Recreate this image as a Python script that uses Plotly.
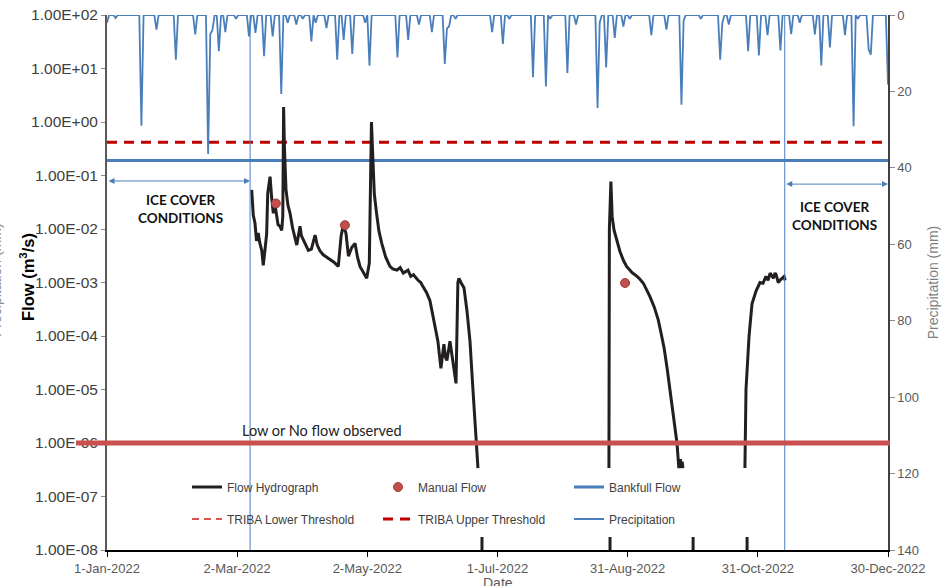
import math
import pandas as pd
import plotly.graph_objects as go

# ---------------- data ----------------
# Daily precipitation (mm); days not listed read as 0 mm
PRECIP_DATES = [
    "2022-01-01", "2022-01-05", "2022-01-17", "2022-01-24", "2022-02-02", "2022-02-11",
    "2022-02-17", "2022-02-18", "2022-02-19", "2022-02-22", "2022-02-25", "2022-03-02",
    "2022-03-08", "2022-03-11", "2022-03-15", "2022-03-19", "2022-03-23", "2022-03-26",
    "2022-03-30", "2022-04-02", "2022-04-06", "2022-04-08", "2022-04-13", "2022-04-18",
    "2022-04-21", "2022-04-25", "2022-05-01", "2022-05-03", "2022-05-16", "2022-05-21",
    "2022-05-26", "2022-06-01", "2022-06-07", "2022-06-08", "2022-06-09", "2022-06-12",
    "2022-06-29", "2022-07-04", "2022-07-07", "2022-07-18", "2022-07-24", "2022-07-26",
    "2022-08-03", "2022-08-07", "2022-08-17", "2022-08-18", "2022-08-21", "2022-08-25",
    "2022-08-29", "2022-09-01", "2022-09-11", "2022-09-18", "2022-09-25", "2022-09-26",
    "2022-10-04", "2022-10-13", "2022-10-14", "2022-10-17", "2022-10-26", "2022-10-31",
    "2022-11-04", "2022-11-10", "2022-11-15", "2022-11-19", "2022-11-26", "2022-11-29",
    "2022-12-03", "2022-12-10", "2022-12-14", "2022-12-16", "2022-12-21", "2022-12-22",
    "2022-12-30",
]
PRECIP_MM = [
    2.0, 0.8, 29.0, 3.8, 11.7, 5.1,
    36.4, 5.0, 4.0, 9.5, 4.5, 1.0,
    5.6, 4.7, 10.8, 5.6, 20.7, 2.0,
    2.5, 1.0, 6.9, 2.0, 3.4, 11.7,
    6.5, 10.2, 2.0, 13.3, 11.1, 6.5,
    2.5, 4.5, 12.8, 3.5, 3.0, 1.0,
    4.5, 7.6, 1.0, 16.3, 18.7, 1.0,
    15.2, 2.5, 24.3, 2.0, 13.7, 6.0,
    3.0, 1.0, 5.3, 3.8, 23.5, 1.5,
    1.0, 11.7, 2.0, 2.5, 9.5, 10.6,
    5.3, 9.3, 5.0, 2.0, 5.1, 13.2,
    8.5, 5.3, 29.1, 1.0, 9.0, 10.4,
    18.2,
]

# Flow hydrograph (m3/s); None marks breaks in the record
FLOW_DATES = [
    "2022-03-09 06:00", "2022-03-10 00:00", "2022-03-10 19:00", "2022-03-11 12:00", "2022-03-12 07:00",
    "2022-03-13 00:00", "2022-03-13 22:00", "2022-03-14 15:00", "2022-03-15 10:00", "2022-03-16 05:00",
    "2022-03-16 17:00", "2022-03-17 19:00", "2022-03-18 12:00", "2022-03-19 07:00", "2022-03-20 00:00",
    "2022-03-20 12:00", "2022-03-21 12:00", "2022-03-22 10:00", "2022-03-23 05:00", "2022-03-23 17:00",
    "2022-03-24 02:00", "2022-03-24 12:00", "2022-03-25 05:00", "2022-03-26 02:00", "2022-03-27 02:00",
    "2022-03-28 06:00", "2022-03-29 10:00", "2022-03-30 05:00", "2022-03-31 17:00", "2022-04-01 08:00",
    "2022-04-02 05:00", "2022-04-03 10:00", "2022-04-04 14:00", "2022-04-06 00:00", "2022-04-07 17:00",
    "2022-04-08 17:00", "2022-04-10 00:00", "2022-04-11 12:00", "2022-04-13 00:00", "2022-04-14 14:00",
    "2022-04-16 12:00", "2022-04-18 12:00", "2022-04-19 19:00", "2022-04-20 19:00", "2022-04-22 02:00",
    "2022-04-23 05:00", "2022-04-24 18:00", "2022-04-26 07:00", "2022-04-27 10:00", "2022-04-28 14:00",
    "2022-04-30 06:00", "2022-05-01 17:00", "2022-05-02 22:00", "2022-05-03 22:00", "2022-05-04 14:00",
    "2022-05-05 06:00", "2022-05-06 07:00", "2022-05-07 10:00", "2022-05-08 17:00", "2022-05-10 12:00",
    "2022-05-12 12:00", "2022-05-13 20:00", "2022-05-15 19:00", "2022-05-17 06:00", "2022-05-18 17:00",
    "2022-05-20 22:00", "2022-05-22 04:00", "2022-05-23 10:00", "2022-05-25 14:00", "2022-05-26 20:00",
    "2022-05-28 00:00", "2022-05-29 12:00", "2022-05-31 02:00", "2022-06-02 12:00", "2022-06-03 19:00",
    "2022-06-05 05:00", "2022-06-06 14:00", "2022-06-07 08:00", "2022-06-08 00:00", "2022-06-09 10:00",
    "2022-06-10 19:00", "2022-06-12 05:00", "2022-06-13 02:00", "2022-06-13 14:00", "2022-06-14 12:00",
    "2022-06-15 22:00", "2022-06-17 07:00", "2022-06-18 17:00", "2022-06-20 02:00", "2022-06-21 12:00",
    "2022-06-22 10:00",
    None,
    "2022-06-24 07:00", "2022-06-24 07:00",
    None,
    "2022-08-22 19:00", "2022-08-22 19:00",
    None,
    "2022-08-22 07:00", "2022-08-22 12:00", "2022-08-23 05:00", "2022-08-23 19:00", "2022-08-24 16:00",
    "2022-08-25 22:00", "2022-08-27 10:00", "2022-08-29 00:00", "2022-08-30 12:00", "2022-09-01 02:00",
    "2022-09-02 06:00", "2022-09-03 10:00", "2022-09-05 08:00", "2022-09-07 07:00", "2022-09-08 20:00",
    "2022-09-10 10:00", "2022-09-12 08:00", "2022-09-14 05:00", "2022-09-15 14:00", "2022-09-16 22:00",
    "2022-09-18 08:00", "2022-09-19 17:00", "2022-09-21 12:00", "2022-09-22 22:00", "2022-09-23 19:00",
    "2022-09-24 12:00", "2022-09-24 20:00", "2022-09-25 08:00", "2022-09-25 16:00",
    None,
    "2022-09-30 10:00", "2022-09-30 10:00",
    None,
    "2022-10-25 12:00", "2022-10-25 12:00",
    None,
    "2022-10-24 12:00", "2022-10-25 00:00", "2022-10-26 10:00", "2022-10-27 19:00", "2022-10-29 17:00",
    "2022-10-31 12:00", "2022-11-01 22:00", "2022-11-03 07:00", "2022-11-04 06:00", "2022-11-05 05:00",
    "2022-11-06 17:00", "2022-11-07 12:00", "2022-11-08 00:00", "2022-11-09 00:00", "2022-11-09 18:00",
    "2022-11-10 14:00", "2022-11-11 17:00", "2022-11-12 05:00",
]
FLOW_VALUES = [
    0.054, 0.018, 0.0128, 0.006, 0.0084,
    0.0055, 0.004, 0.0021, 0.004, 0.0082,
    0.047, 0.095, 0.040, 0.0196, 0.030,
    0.022, 0.012, 0.0112, 0.0094, 0.0172,
    1.9, 0.3, 0.054, 0.028, 0.0196,
    0.0105, 0.0063, 0.005, 0.0113, 0.0075,
    0.0063, 0.0048, 0.004, 0.0042, 0.0077,
    0.005, 0.0039, 0.0033, 0.0030, 0.0027,
    0.0024, 0.002, 0.0073, 0.0117, 0.0083,
    0.0031, 0.0045, 0.0054, 0.0030, 0.002,
    0.0015, 0.0012, 0.0023, 1.0, 0.2,
    0.045, 0.0196, 0.0090, 0.0054, 0.0030,
    0.002, 0.0018, 0.0017, 0.0019, 0.0015,
    0.0017, 0.0013, 0.0014, 0.0011, 0.0010,
    0.00082, 0.00065, 0.00046, 0.00015, 8e-5,
    2.5e-5, 7e-5, 4e-5, 3.5e-5, 8e-5,
    3e-5, 1.3e-5, 1.0e-3, 1.2e-3, 1.0e-3,
    8e-4, 3e-4, 8e-5, 1e-5, 1.2e-6,
    3.4e-7,
    None,
    1.75e-8, 1e-9,
    None,
    1.75e-8, 1e-9,
    None,
    3.4e-7, 0.01, 0.077, 0.017, 0.0095,
    0.0063, 0.0038, 0.0026, 0.0020, 0.0017,
    0.0015, 0.0014, 0.0012, 0.00097, 0.00075,
    0.00054, 0.00035, 0.0002, 0.00011, 6e-5,
    2.5e-5, 1e-5, 2.5e-6, 1e-6, 3.4e-7,
    5e-7, 3.4e-7, 4.5e-7, 3.4e-7,
    None,
    1.75e-8, 1e-9,
    None,
    1.75e-8, 1e-9,
    None,
    3.4e-7, 1e-5, 1e-4, 4e-4, 7e-4,
    1e-3, 9.7e-4, 1.3e-3, 1.1e-3, 1.5e-3,
    1.2e-3, 1.5e-3, 1.4e-3, 1.0e-3, 1.1e-3,
    1.2e-3, 1.3e-3, 1.1e-3,
]

MANUAL_DATES = ["2022-03-20 12:00", "2022-04-21 14:00", "2022-08-29 19:00"]
MANUAL_FLOW = [0.030, 0.0118, 0.00098]

BANKFULL_FLOW = 0.19
TRIBA_UPPER = 0.42
TRIBA_LOWER = None          # not visible within the plotted range
LOW_FLOW_LEVEL = 1.0e-6

ICE_END = "2022-03-08 12:00"
ICE_START = "2022-11-12 00:00"

X_START, X_END = "2022-01-01", "2022-12-30"
X_TICK_VALS = ["2022-01-01", "2022-03-02 12:00", "2022-05-02", "2022-07-01 12:00",
               "2022-08-31", "2022-10-30 12:00", "2022-12-30"]
X_TICK_LABELS = ["1-Jan-2022", "2-Mar-2022", "2-May-2022", "1-Jul-2022",
                 "31-Aug-2022", "31-Oct-2022", "30-Dec-2022"]
Y_TICK_VALS = [1e-8, 1e-7, 1e-6, 1e-5, 1e-4, 1e-3, 1e-2, 1e-1, 1e0, 1e1, 1e2]
Y_TICK_LABELS = ["1.00E-08", "1.00E-07", "1.00E-06", "1.00E-05", "1.00E-04", "1.00E-03",
                 "1.00E-02", "1.00E-01", "1.00E+00", "1.00E+01", "1.00E+02"]
Y2_TICK_VALS = [0, 20, 40, 60, 80, 100, 120, 140]

# ---------------- build daily precipitation ----------------
days = pd.date_range(X_START, X_END, freq="D")
pmap = dict(zip(pd.to_datetime(PRECIP_DATES), PRECIP_MM))
precip_daily = [pmap.get(d, 0.0) for d in days]

BLUE = "#4a7ebb"
FONT = "Liberation Sans, Arial, sans-serif"
CAL = "Lato, Carlito, sans-serif"

# plot-area geometry (px) used for placing text in paper coords
L, R, T, B = 107, 64, 15, 36
PW, PH = 952 - L - R, 586 - T - B


def px(xp):
    return (xp - L) / PW


def py(yp):
    return 1 - (yp - T) / PH


fig = go.Figure()

fig.add_trace(go.Scatter(
    x=days, y=precip_daily, yaxis="y2", mode="lines", name="Precipitation",
    line=dict(color=BLUE, width=1.8), legend="legend2", legendrank=6))

fig.add_trace(go.Scatter(
    x=[X_START, X_END], y=[BANKFULL_FLOW, BANKFULL_FLOW], mode="lines", name="Bankfull Flow",
    line=dict(color=BLUE, width=3), legend="legend", legendrank=3))

fig.add_trace(go.Scatter(
    x=[X_START, X_END], y=[TRIBA_LOWER, TRIBA_LOWER], mode="lines", name="TRIBA Lower Threshold",
    line=dict(color="#d9534f", width=2, dash="7px,5px"), legend="legend2", legendrank=4))

fig.add_trace(go.Scatter(
    x=[X_START, X_END], y=[TRIBA_UPPER, TRIBA_UPPER], mode="lines", name="TRIBA Upper Threshold",
    line=dict(color="#c00000", width=3, dash="10px,7px"), legend="legend2", legendrank=5))

fig.add_trace(go.Scatter(
    x=FLOW_DATES, y=FLOW_VALUES, mode="lines", name="Flow Hydrograph",
    line=dict(color="#231f20", width=3), connectgaps=False, legend="legend", legendrank=1))

fig.add_trace(go.Scatter(
    x=MANUAL_DATES, y=MANUAL_FLOW, mode="markers", name="Manual Flow",
    marker=dict(color="#c0504d", size=9, line=dict(color="#a33b38", width=1)),
    legend="legend", legendrank=2))

# vertical ice-cover boundaries
for d in (ICE_END, ICE_START):
    fig.add_shape(type="line", xref="x", yref="paper", x0=d, x1=d, y0=0, y1=1,
                  line=dict(color=BLUE, width=1), layer="above")

# low / no flow line (extends over the tick label like the original)
fig.add_shape(type="line", xref="paper", yref="y", x0=px(76), x1=px(890),
              y0=LOW_FLOW_LEVEL, y1=LOW_FLOW_LEVEL,
              line=dict(color="#c9504f", width=5), layer="above")

ice_y_left = math.log10(0.079)
ice_y_right = math.log10(0.069)
fig.add_annotation(x=ICE_END, y=ice_y_left, ax=X_START, ay=ice_y_left, xref="x", yref="y",
                   axref="x", ayref="y", text="", showarrow=True, arrowhead=2, arrowside="end+start",
                   arrowsize=1.2, arrowwidth=1, arrowcolor=BLUE, standoff=0, startstandoff=0)
fig.add_annotation(x=X_END, y=ice_y_right, ax=ICE_START, ay=ice_y_right, xref="x", yref="y",
                   axref="x", ayref="y", text="", showarrow=True, arrowhead=2, arrowside="end+start",
                   arrowsize=1.2, arrowwidth=1, arrowcolor=BLUE, standoff=0, startstandoff=0)

for cx, cy in ((180, 209), (834, 216)):
    fig.add_annotation(x=px(cx), y=py(cy), xref="paper", yref="paper",
                       xanchor="center", yanchor="middle",
                       text="<b>ICE COVER<br>CONDITIONS</b>", showarrow=False,
                       font=dict(family=CAL, size=13.5, color="#111111"), align="center")
fig.add_annotation(x=px(240), y=py(430), xref="paper", yref="paper",
                   xanchor="left", yanchor="middle", text="Low or No flow observed", showarrow=False,
                   font=dict(family=CAL, size=14.5, color="#222222"))
# left axis title
fig.add_annotation(x=px(27), y=py(277), xref="paper", yref="paper",
                   xanchor="center", yanchor="middle", textangle=-90, showarrow=False,
                   text="<b>Flow (m<sup>3</sup>/s)</b>",
                   font=dict(family=FONT, size=16.5, color="#000000"))
# x axis title (partly cut off at the bottom edge, as in the original)
fig.add_annotation(x=px(498), y=py(573), xref="paper", yref="paper",
                   xanchor="center", yanchor="top", showarrow=False, text="Date",
                   font=dict(family=FONT, size=14, color="#595959"))
# faint, cut-off secondary label at the far left edge
fig.add_annotation(x=px(-4), y=py(280), xref="paper", yref="paper",
                   xanchor="center", yanchor="middle",
                   text="Precipitation (mm)", textangle=-90, showarrow=False,
                   font=dict(family=FONT, size=14, color="#8c8c8c"))

legend_common = dict(orientation="h", xanchor="left", yanchor="middle", entrywidth=146,
                     bgcolor="rgba(0,0,0,0)", font=dict(family=FONT, size=12, color="#404040"))

fig.update_layout(
    width=952, height=586,
    margin=dict(l=L, r=R, t=T, b=B, autoexpand=False),
    paper_bgcolor="white", plot_bgcolor="white",
    showlegend=True,
    legend=dict(x=px(187), y=py(487), **legend_common),
    legend2=dict(x=px(187), y=py(519), **legend_common),
    xaxis=dict(type="date", range=[X_START, X_END], tickvals=X_TICK_VALS, ticktext=X_TICK_LABELS,
               automargin=False,
               showgrid=False, zeroline=False, showline=True, linecolor="#000000", linewidth=2,
               ticks="outside", ticklen=5, tickcolor="#000000", tickwidth=1,
               tickfont=dict(family=FONT, size=13, color="#595959")),
    yaxis=dict(type="log", range=[-8, 2], tickvals=Y_TICK_VALS, ticktext=Y_TICK_LABELS,
               automargin=False,
               showgrid=False, zeroline=False, showline=True, linecolor="#595959", linewidth=2,
               ticks="outside", ticklen=4, tickcolor="#8c8c8c",
               tickfont=dict(family=FONT, size=15.5, color="#404040")),
    yaxis2=dict(overlaying="y", side="right", range=[140, 0], tickvals=Y2_TICK_VALS,
                automargin=False,
                showgrid=False, zeroline=False, showline=True, linecolor="#404040", linewidth=1.5,
                ticks="outside", ticklen=5, tickcolor="#8c8c8c",
                tickfont=dict(family=FONT, size=13, color="#595959"),
                title=dict(text="Precipitation (mm)", standoff=10,
                           font=dict(family=FONT, size=14, color="#7f7f7f"))),
)

fig.write_html("out.html")
